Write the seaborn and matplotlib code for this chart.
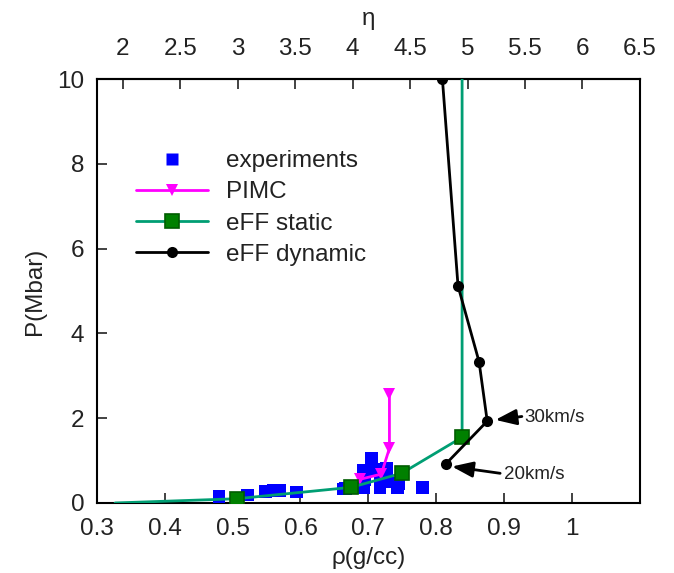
import matplotlib
matplotlib.use("Agg")
import matplotlib.pyplot as plt
from matplotlib.lines import Line2D
import numpy as np
import pandas as pd
import seaborn as sns

# ---- data ----
exp_rho = [0.480, 0.522, 0.548, 0.560, 0.570, 0.594, 0.663, 0.666, 0.693, 0.693,
           0.695, 0.705, 0.707, 0.717, 0.717, 0.727, 0.727, 0.743, 0.745, 0.780]
exp_P = [0.16, 0.19, 0.27, 0.29, 0.29, 0.26, 0.33, 0.35, 0.37, 0.76,
         0.55, 1.06, 0.79, 0.37, 0.50, 0.81, 0.51, 0.37, 0.45, 0.37]

pimc_rho = [0.731, 0.731, 0.719, 0.688]
pimc_P = [2.57, 1.29, 0.68, 0.56]

static_rho = [0.327, 0.506, 0.675, 0.749, 0.838, 0.838]
static_P = [0.0, 0.10, 0.37, 0.70, 1.55, 12.0]

dyn_rho = [0.809, 0.832, 0.863, 0.875, 0.814]
dyn_P = [10.0, 5.12, 3.33, 1.93, 0.92]

rho0 = 0.1692  # eta = rho / rho0

sns.set_style("ticks")
plt.rcParams['font.family'] = ['Liberation Sans', 'DejaVu Sans']
plt.rcParams['axes.linewidth'] = 1.5

fig = plt.figure(figsize=(6.74, 5.73), dpi=100)
ax = fig.add_axes([0.1435, 0.1222, 0.8061, 0.7399])

green_line = '#009e73'

sns.scatterplot(x=exp_rho, y=exp_P, marker='s', s=85, color='#0000ff',
                edgecolor='none', ax=ax, zorder=3)
sns.lineplot(x=pimc_rho, y=pimc_P, sort=False, estimator=None, color='#ff00ff',
             lw=2, marker='v', markersize=8, markeredgewidth=0, ax=ax, zorder=4)
sns.lineplot(x=static_rho, y=static_P, sort=False, estimator=None, color=green_line,
             lw=2, ax=ax, zorder=4)
ax.plot(static_rho[1:5], static_P[1:5], ls='none', marker='s', markersize=10,
        mfc='#008000', mec='#005c00', mew=1.2, zorder=5)
sns.lineplot(x=dyn_rho, y=dyn_P, sort=False, estimator=None, color='black',
             lw=2, marker='o', markersize=8, markeredgewidth=0, ax=ax, zorder=6)

ax.set_xlim(0.3, 1.1)
ax.set_ylim(0, 10)
ax.set_xticks([0.3, 0.4, 0.5, 0.6, 0.7, 0.8, 0.9, 1.0])
ax.set_xticklabels(['0.3', '0.4', '0.5', '0.6', '0.7', '0.8', '0.9', '1'])
ax.set_yticks([0, 2, 4, 6, 8, 10])
ax.tick_params(axis='both', direction='in', length=7, width=1.2, labelsize=17.5,
               colors='#222222', top=False, right=False)
ax.tick_params(axis='x', pad=11)
ax.tick_params(axis='y', pad=9)
for sp in ax.spines.values():
    sp.set_visible(True)
    sp.set_color('black')
    sp.set_linewidth(1.5)

ax.set_xlabel('ρ(g/cc)', fontsize=17.5, labelpad=5, color='#222222')
ax.set_ylabel('P(Mbar)', fontsize=17.5, labelpad=8, color='#222222')

top = ax.secondary_xaxis('top', functions=(lambda r: r / rho0, lambda e: e * rho0))
top.set_xticks([2, 2.5, 3, 3.5, 4, 4.5, 5, 5.5, 6, 6.5])
top.set_xticklabels(['2', '2.5', '3', '3.5', '4', '4.5', '5', '5.5', '6', '6.5'])
top.tick_params(direction='in', length=7, width=1.2, labelsize=17.5, pad=14,
                colors='#222222')
top.set_xlabel('η', fontsize=17.5, labelpad=9, color='#222222')

# arrows and speed labels
arrow = dict(arrowstyle='-|>,head_length=0.75,head_width=0.28', color='black',
             lw=2, mutation_scale=17, shrinkA=0, shrinkB=0)
ax.annotate('', xy=(0.887, 1.96), xytext=(0.926, 2.04), arrowprops=arrow)
ax.text(0.929, 2.01, '30km/s', fontsize=13.5, va='center', ha='left', color='#222222')
ax.annotate('', xy=(0.823, 0.86), xytext=(0.894, 0.70), arrowprops=arrow)
ax.text(0.900, 0.68, '20km/s', fontsize=13.5, va='center', ha='left', color='#222222')

handles = [
    Line2D([], [], ls='none', marker='s', markersize=9, color='#0000ff', mec='none'),
    Line2D([], [], color='#ff00ff', lw=2, marker='v', markersize=8, mew=0),
    Line2D([], [], color=green_line, lw=2, marker='s', markersize=10,
           mfc='#008000', mec='#005c00', mew=1.2),
    Line2D([], [], color='black', lw=2, marker='o', markersize=8, mew=0),
]
labels = ['experiments', 'PIMC', 'eFF static', 'eFF dynamic']
leg = ax.legend(handles, labels, loc='upper left', bbox_to_anchor=(0.055, 0.855),
                frameon=False, fontsize=17.5, handlelength=2.95, handletextpad=0.75,
                labelspacing=0.38, borderaxespad=0)
for t in leg.get_texts():
    t.set_color('#222222')

fig.savefig('out.png', dpi=100)
